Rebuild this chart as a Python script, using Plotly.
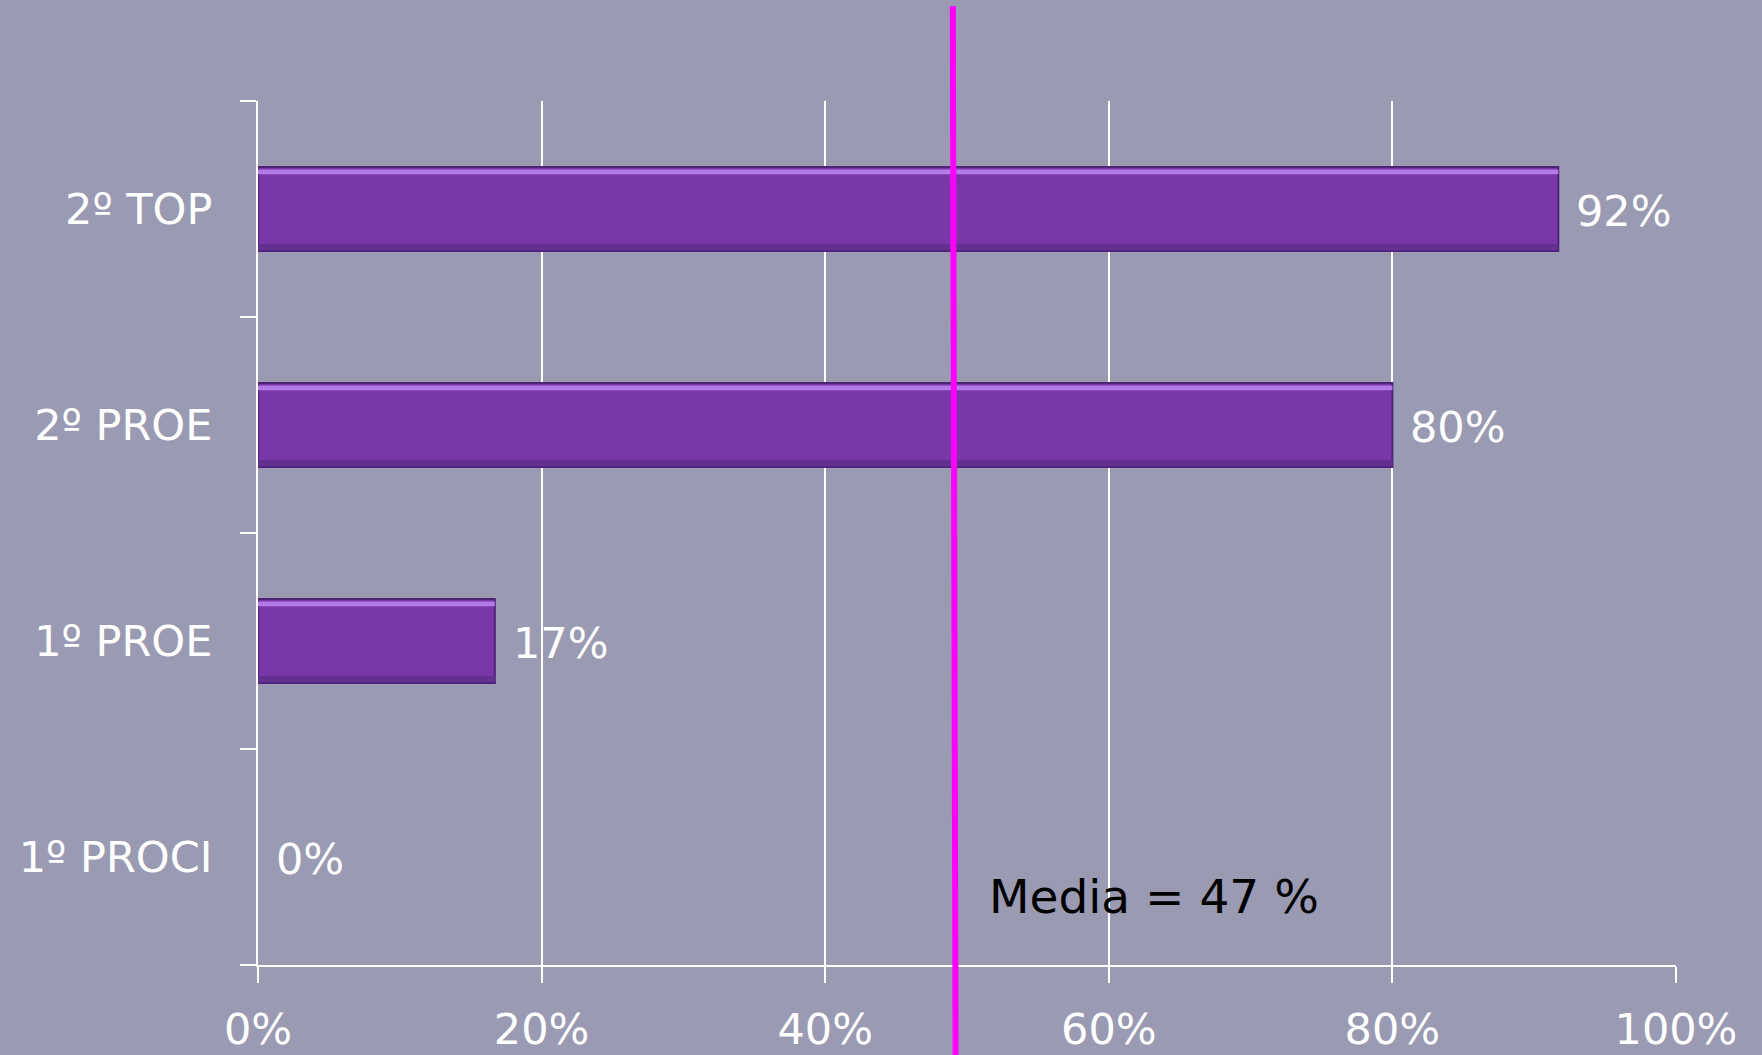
import plotly.graph_objects as go

categories = ["1º PROCI", "1º PROE", "2º PROE", "2º TOP"]
values = [0, 16.7, 80, 91.7]
x_ticks = [0, 20, 40, 60, 80, 100]
x_tick_labels = ["0%", "20%", "40%", "60%", "80%", "100%"]
mean_label = "Media = 47 %"
mean_line_x = [49.0, 49.2]  # top, bottom position of the drawn mean line

BG = "#9A9AB2"
FONT = "DejaVu Sans"
BAR_W = 0.39

fig = go.Figure()
fig.add_trace(go.Bar(
    y=categories, x=values, orientation="h",
    marker=dict(color="#7A37A8",
                line=dict(color="#4E2478", width=[0 if v == 0 else 2 for v in values])),
    width=BAR_W, showlegend=False, hoverinfo="skip",
))
# bevel highlight (top) and shade (bottom) stripes on the same bars
fig.add_trace(go.Bar(
    y=categories, x=values, orientation="h",
    marker=dict(color="#B47BE6", line=dict(width=0)),
    width=0.022, offset=BAR_W / 2 - 0.034, showlegend=False, hoverinfo="skip",
))
fig.add_trace(go.Bar(
    y=categories, x=values, orientation="h",
    marker=dict(color="#63308F", line=dict(width=0)),
    width=0.025, offset=-BAR_W / 2 + 0.008, showlegend=False, hoverinfo="skip",
))

for c, v in zip(categories, values):
    fig.add_annotation(x=v, y=c, xref="x", yref="y", text=f"{round(v)}%",
                       showarrow=False, xanchor="left", yanchor="middle", xshift=16, yshift=-2,
                       font=dict(family=FONT, size=43, color="white"))

fig.add_shape(type="line", xref="x", yref="paper",
              x0=mean_line_x[1], x1=mean_line_x[0], y0=-0.13, y1=1.11,
              line=dict(color="#FF00FF", width=6), layer="above")

fig.add_annotation(x=51.4, y=0.079, xref="x", yref="paper", text=mean_label,
                   showarrow=False, xanchor="left", yanchor="middle",
                   font=dict(family=FONT, size=47, color="black"))

fig.update_layout(
    width=1762, height=1055, barmode="overlay",
    paper_bgcolor=BG, plot_bgcolor=BG,
    margin=dict(l=258, r=86, t=101, b=90),
    font=dict(family=FONT, color="white"),
    xaxis=dict(range=[0, 100], tickvals=x_ticks, ticktext=x_tick_labels,
               showgrid=True, gridcolor="white", gridwidth=1.5,
               showline=True, linecolor="white", linewidth=2,
               ticks="outside", ticklen=16, tickcolor="white", tickwidth=1.5,
               tickfont=dict(family=FONT, size=43, color="white"),
               ticklabelstandoff=9, zeroline=False, fixedrange=True,
               automargin=False),
    yaxis=dict(categoryorder="array", categoryarray=categories,
               showgrid=False, showline=True, linecolor="white", linewidth=2,
               ticks="outside", ticklen=16, tickcolor="white", tickwidth=1.5,
               tickson="boundaries",
               tickfont=dict(family=FONT, size=43, color="white"),
               ticklabelstandoff=35, fixedrange=True, automargin=False),
)

fig.write_html("out.html", config={"displayModeBar": False},
               post_script="document.body.style.margin='0';document.body.style.overflow='hidden';")
